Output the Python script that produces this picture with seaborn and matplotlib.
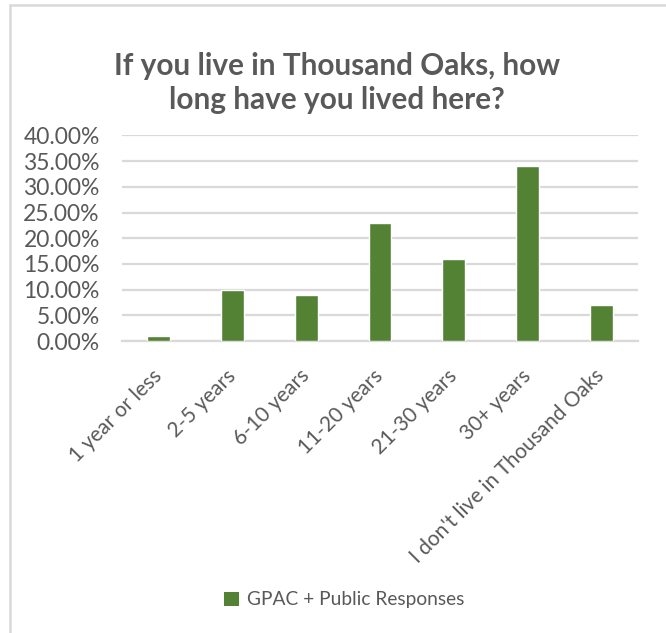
import matplotlib
matplotlib.use("Agg")
import matplotlib.pyplot as plt
import seaborn as sns
import pandas as pd
from matplotlib.patches import Patch
from matplotlib.lines import Line2D
from matplotlib.ticker import FuncFormatter

categories = ["1 year or less", "2-5 years", "6-10 years", "11-20 years",
              "21-30 years", "30+ years", "I don't live in Thousand Oaks"]
values = [0.01, 0.10, 0.09, 0.23, 0.16, 0.34, 0.07]
series_name = "GPAC + Public Responses"
title = "If you live in Thousand Oaks, how\nlong have you lived here?"
yticks = [0.0, 0.05, 0.10, 0.15, 0.20, 0.25, 0.30, 0.35, 0.40]

sns.set_theme(style="white")
plt.rcParams['font.family'] = ['Lato', 'DejaVu Sans']

TEXT = "#595959"
GRID = "#d9d9d9"
GREEN = "#548235"
W, H = 666, 633

df = pd.DataFrame({"cat": categories, "val": values})

fig = plt.figure(figsize=(W / 100, H / 100), dpi=100)
fig.patch.set_facecolor("white")
ax = fig.add_axes([122 / W, 1 - 341 / H, (638 - 122) / W, (341 - 135.5) / H])

sns.barplot(data=df, x="cat", y="val", color=GREEN, width=0.31, ax=ax,
            saturation=1, zorder=3)

ax.set_ylim(0, 0.40)
ax.set_yticks(yticks)
ax.yaxis.set_major_formatter(FuncFormatter(lambda v, p: f"{v * 100:.2f}%"))
ax.set_xlabel("")
ax.set_ylabel("")
ax.grid(axis="y", color=GRID, linewidth=1.6, zorder=0)
ax.grid(axis="x", visible=False)
for s in ["top", "right", "left"]:
    ax.spines[s].set_visible(False)
ax.spines["bottom"].set_color(GRID)
ax.spines["bottom"].set_linewidth(1.6)
ax.spines["bottom"].set_zorder(1)
ax.tick_params(axis="y", length=0, pad=16, labelsize=16.5, labelcolor=TEXT)
ax.tick_params(axis="x", length=0, pad=23, labelsize=15, labelcolor=TEXT)
for lab in ax.get_xticklabels():
    lab.set_rotation(45)
    lab.set_ha("right")
    lab.set_va("center")
    lab.set_rotation_mode("anchor")

fig.text(337 / W, 1 - 83 / H, title, ha="center", va="center",
         fontsize=21.4, fontweight="bold", color=TEXT, linespacing=1.28)

handle = Patch(facecolor=GREEN, edgecolor="none")
leg = fig.legend([handle], [series_name], loc="center",
                 bbox_to_anchor=(344 / W, 1 - 600 / H), frameon=False,
                 fontsize=13.8, handlelength=0.8, handleheight=0.8,
                 handletextpad=0.4, labelcolor=TEXT)

# chart-area border (left and top edges visible)
fig.add_artist(Line2D([10.5 / W, 10.5 / W], [0, 1 - 4.5 / H], color=GRID,
                      linewidth=1.8, transform=fig.transFigure))
fig.add_artist(Line2D([10.5 / W, 1], [1 - 4.5 / H, 1 - 4.5 / H], color=GRID,
                      linewidth=1.8, transform=fig.transFigure))

fig.savefig("out.png", dpi=100, facecolor="white")
